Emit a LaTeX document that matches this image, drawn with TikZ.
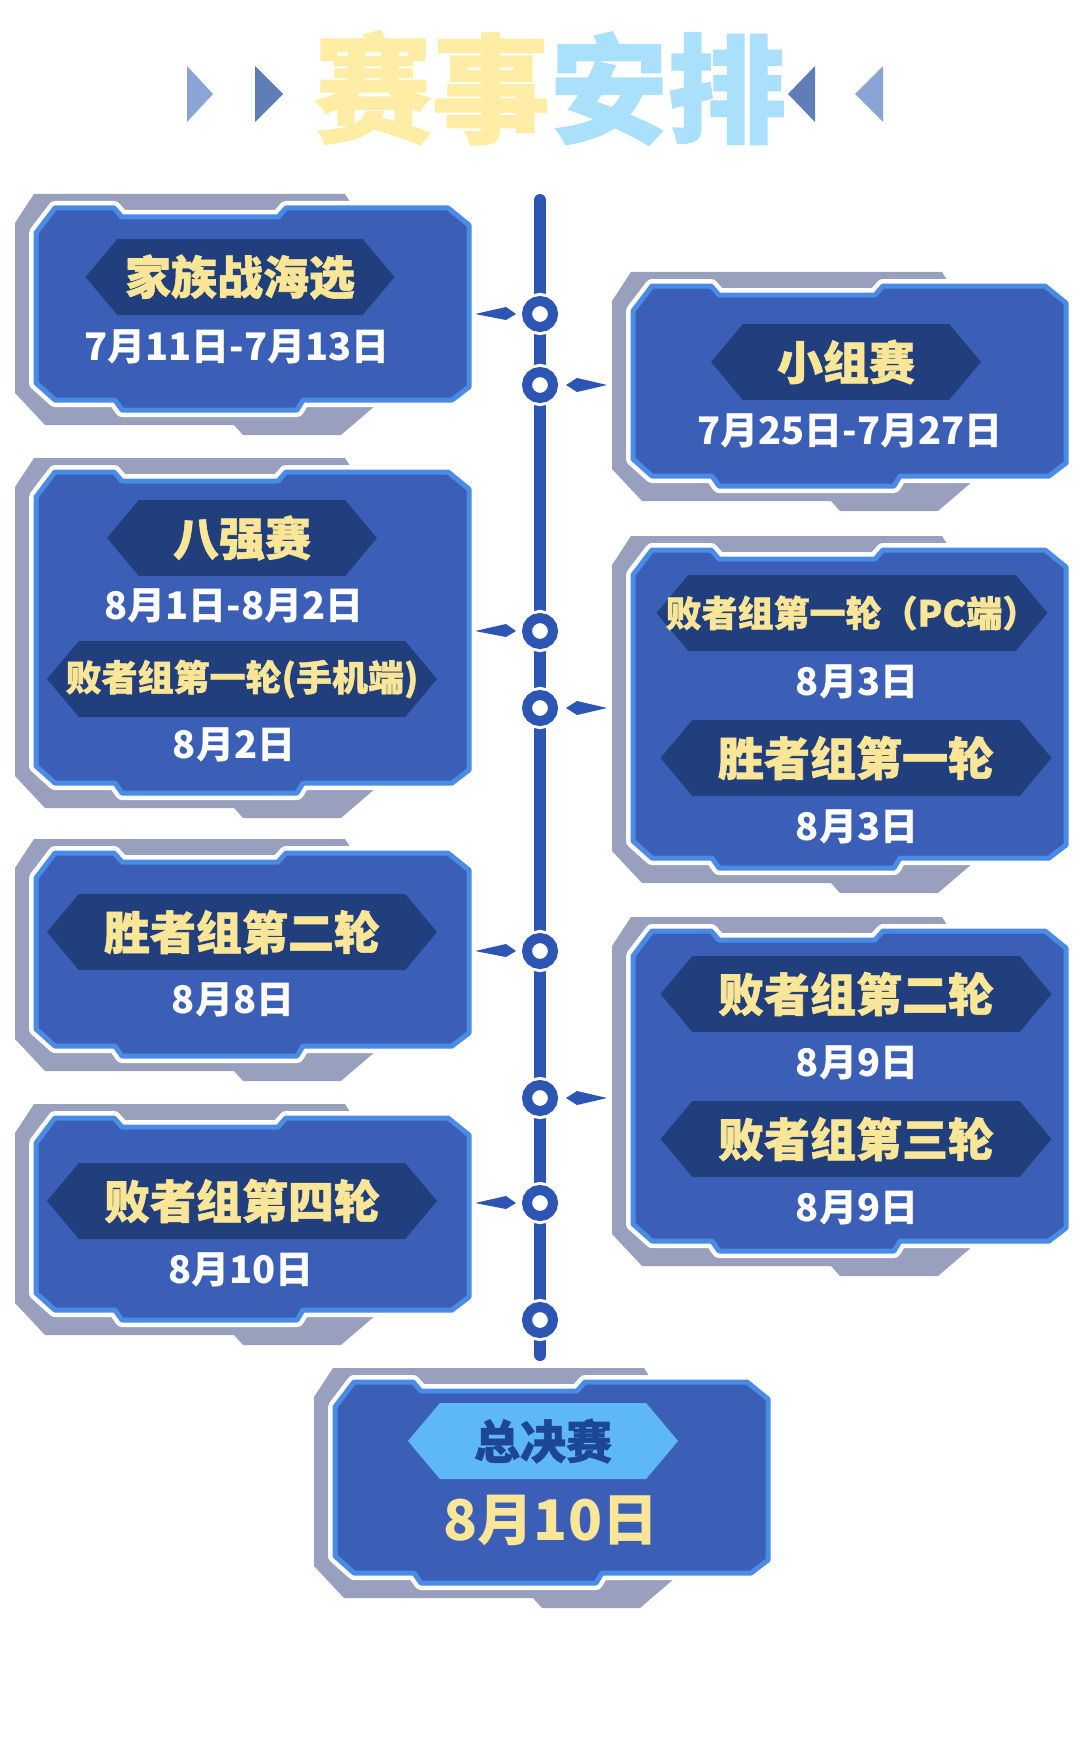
\documentclass[tikz,border=0pt]{standalone}
\usepackage{fontspec}
\usepackage{xcolor}
\usepackage{tikz}
\usetikzlibrary{shapes.symbols}
\newfontfamily\cjk{Noto Sans CJK SC}
\newfontfamily\cjkheavy{Noto Sans CJK SC}[BoldFeatures={FakeBold=1.2}]
\definecolor{cardblue}{RGB}{59,95,182}
\definecolor{cardrim}{RGB}{74,139,230}
\definecolor{cardgray}{RGB}{152,160,190}
\definecolor{hexdark}{RGB}{33,62,125}
\definecolor{hexlight}{RGB}{94,184,248}
\definecolor{finaltxt}{RGB}{30,70,150}
\definecolor{gold}{RGB}{250,230,150}
\definecolor{lineblue}{RGB}{45,85,180}
\definecolor{tri1}{RGB}{138,165,213}
\definecolor{tri2}{RGB}{95,126,182}
\definecolor{ttlyel}{RGB}{255,236,165}
\definecolor{ttlblu}{RGB}{170,224,252}
\newcommand{\ttlfont}{\cjkheavy\bfseries\fontsize{59pt}{59pt}\selectfont}
\newcommand{\lblfont}{\cjkheavy\bfseries\fontsize{23pt}{23pt}\selectfont}
\newcommand{\smlfont}{\cjkheavy\bfseries\fontsize{18pt}{18pt}\selectfont}
\newcommand{\datefont}{\cjk\bfseries\fontsize{19pt}{19pt}\selectfont}
\newcommand{\finfont}{\cjk\bfseries\fontsize{28pt}{28pt}\selectfont}
% one card: panel top-left corner (#1,#2), panel height #3
\newcommand{\card}[3]{%
  \begin{scope}[shift={(#1,#2)}]
    \fill[cardgray] (-21,15) -- (-2,-14) -- (309,-14) -- (318,0) -- (340,0) -- (340,#3+5)
      -- (305,#3+35) -- (207,#3+35) -- (198,#3+25) -- (9,#3+25) -- (-21,#3-7) -- cycle;
    \draw[rim] (0,25) -- (19,0) -- (78,0) -- (86,9) -- (242,9) -- (250,0) -- (412,0)
      -- (433,17) -- (433,#3-13) -- (416,#3) -- (267,#3) -- (261,#3+10) -- (86,#3+10)
      -- (79,#3) -- (19,#3) -- (0,#3-17) -- cycle;
  \end{scope}}

\begin{document}
\begin{tikzpicture}[x=0.5pt,y=-0.5pt,
  rim/.style={draw=cardrim, line width=2.5pt, fill=cardblue, line join=round,
    preaction={draw=white, line width=7pt, line join=round}},
  hexlbl/.style={signal, signal to=west and east, signal pointer angle=100,
    fill=hexdark, text=gold, inner sep=0pt, minimum height=38pt,
    minimum width=#1, font=\lblfont},
  dateTxt/.style={text=white, inner sep=0pt, font=\datefont},
  timeline/.style={lineblue, line width=6pt, line cap=round},
  ring/.style={circle, draw=lineblue, line width=5pt, fill=white, minimum size=13pt,
    inner sep=0pt, preaction={draw=white, line width=8pt}},
  ptrL/.pic={\fill[lineblue] (-65,0) -- (-34,-7) -- (-24,0) -- (-34,6) -- cycle;},
  ptrR/.pic={\fill[lineblue] (67,0) -- (37,-7) -- (26,0) -- (37,7) -- cycle;}]

\fill[white] (0,0) rectangle (1080,1739);
\useasboundingbox (0,0) rectangle (1080,1739);

% title
\fill[tri1] (187,66) -- (213,94) -- (187,122) -- cycle;
\fill[tri2] (255,66) -- (283,94) -- (255,122) -- cycle;
\fill[tri2] (815,66) -- (788,94) -- (815,122) -- cycle;
\fill[tri1] (883,66) -- (855,94) -- (883,122) -- cycle;
\node[font=\ttlfont, inner sep=0pt] (ttl) at (550,88) {\textcolor{ttlyel}{赛事}\textcolor{ttlblu}{安排}};

% time line
\coordinate (lnTop) at (540,200);
\coordinate (lnBot) at (540,1355);
\draw[timeline] (lnTop) -- (lnBot);
\foreach \y [count=\i] in {314,385,631,708,951,1098,1203,1320}
  \node[ring] (r\i) at (540,\y) {};
\foreach \i in {1,3,5,7}
  \pic at (r\i.center) {ptrL};
\foreach \i in {2,4,6}
  \pic at (r\i.center) {ptrR};

% cards
\card{36}{208}{192}
\card{633}{286}{190}
\card{36}{472}{311}
\card{633}{550}{308}
\card{36}{853}{193}
\card{633}{931}{310}
\card{36}{1118}{192}
\card{335}{1382}{191}

\node[hexlbl=154.5pt] (l1) at (240,277) {家族战海选};
\node[dateTxt] (d1) at (237,347) {7月11日-7月13日};

\node[hexlbl=135pt] (l2) at (846,362) {小组赛};
\node[dateTxt] (d2) at (850,431) {7月25日-7月27日};

\node[hexlbl=135pt] (l3) at (242,538) {八强赛};
\node[dateTxt] (d3) at (234,606) {8月1日-8月2日};
\node[hexlbl=195pt, font=\smlfont] (l4) at (242,679) {\makebox[0pt]{败者组第一轮(手机端)}};
\node[dateTxt] (d4) at (234,745) {8月2日};

\node[hexlbl=195.5pt, font=\smlfont] (l5) at (852,613) {\makebox[0pt]{败者组第一轮（PC端）}};
\node[dateTxt] (d5) at (857,682) {8月3日};
\node[hexlbl=195.5pt] (l6) at (856,758) {胜者组第一轮};
\node[dateTxt] (d6) at (857,827) {8月3日};

\node[hexlbl=195pt] (l7) at (242,932) {胜者组第二轮};
\node[dateTxt] (d7) at (233,1000) {8月8日};

\node[hexlbl=195.5pt] (l8) at (856,994) {败者组第二轮};
\node[dateTxt] (d8) at (857,1063) {8月9日};
\node[hexlbl=195.5pt] (l9) at (856,1139) {败者组第三轮};
\node[dateTxt] (d9) at (857,1208) {8月9日};

\node[hexlbl=195pt] (l10) at (242,1201) {败者组第四轮};
\node[dateTxt] (d10) at (241,1270) {8月10日};

\node[hexlbl=135pt, fill=hexlight, text=finaltxt] (l11) at (543,1441) {总决赛};
\node[dateTxt, text=gold, font=\finfont] (d11) at (551,1520) {8月10日};
\end{tikzpicture}
\end{document}
